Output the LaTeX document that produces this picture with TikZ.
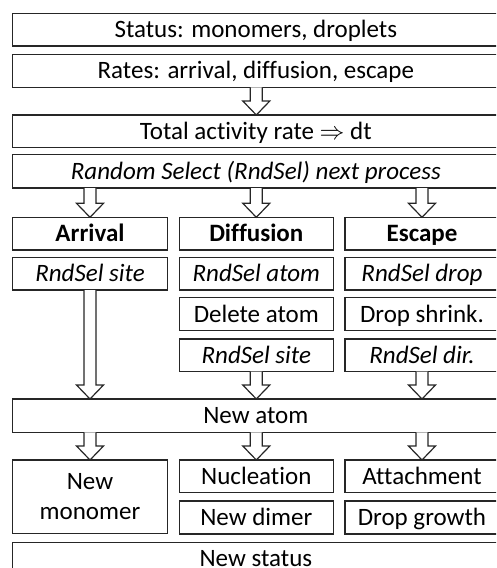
\documentclass[tikz,border=0pt]{standalone}
\usepackage{fontspec}
\setmainfont[Ligatures={NoCommon}]{Carlito}
\usetikzlibrary{calc}
\tikzset{
  box/.style={draw=black!85, line width=1.2pt, inner sep=0pt, outer sep=0pt, align=center,
    text height=19pt, text depth=3pt, font=\fontsize{25}{30}\selectfont},
  arr/.style={draw=black!85, line width=1.2pt, fill=white}
}
\newcommand\bx[6]{\node[box, minimum width={(#4-#2)*1pt}, minimum height={(#5-#3)*1pt}] (#1) at ({(#2+#4)/2},{(#3+#5)/2}) {#6};}
\newcommand\barrow[3]{%
  \draw[arr] let \p1=(#1.south), \p2=(#2.north) in
    (#3pt-6pt,\y1) -- (#3pt-6pt,\y2+14pt) -- (#3pt-13.5pt,\y2+14pt) -- (#3pt,\y2)
    -- (#3pt+13.5pt,\y2+14pt) -- (#3pt+6pt,\y2+14pt) -- (#3pt+6pt,\y1);}
\begin{document}
\begin{tikzpicture}[x=1pt,y=-1pt]
\useasboundingbox (0,0) rectangle (496,568);
\clip (0,0) rectangle (496,568);
\bx{status}{12.7}{13.3}{499}{46}{Status: monomers, droplets}
\bx{rates}{12.7}{54.3}{499}{87.3}{Rates: arrival, diffusion, escape}
\bx{total}{12.7}{115}{499}{147.7}{Total activity rate $\Rightarrow$ dt}
\bx{random}{12.7}{154.3}{499}{188}{\itshape Random Select (RndSel) next process}
\bx{arrival}{12.7}{217.3}{167.3}{250}{\bfseries Arrival}
\bx{diffusion}{179.3}{217.3}{333.3}{250}{\bfseries Diffusion}
\bx{escape}{345}{217.3}{499}{250}{\bfseries Escape}
\bx{rsa}{12.7}{257.7}{167.3}{290}{\itshape RndSel site}
\bx{rsb}{179.3}{257.7}{333.3}{290}{\itshape RndSel atom}
\bx{rsc}{345}{257.7}{499}{290}{\itshape RndSel drop}
\bx{del}{179.3}{297.7}{333.3}{330.7}{Delete atom}
\bx{shrink}{345}{297.7}{499}{330.7}{Drop shrink.}
\bx{site}{179.3}{339}{333.3}{371.7}{\itshape RndSel site}
\bx{dir}{345}{339}{499}{371.7}{\itshape RndSel dir.}
\bx{newatom}{12.7}{399}{499}{432.3}{New atom}
\bx{monomer}{12.7}{460}{167.3}{533.3}{}
\node[font=\fontsize{25}{30}\selectfont, align=center, inner sep=0pt] (monotext) at (monomer.center) {New\\monomer};
\bx{nucl}{179.3}{460}{333.3}{492.7}{Nucleation}
\bx{attach}{345}{460}{499}{492.7}{Attachment}
\bx{dimer}{179.3}{501}{333.3}{534}{New dimer}
\bx{growth}{345}{501}{499}{534}{Drop growth}
\bx{newstatus}{12.7}{542.3}{499}{575}{New status}
\barrow{rates}{total}{256.3}
\barrow{random}{arrival}{90}
\barrow{random}{diffusion}{256.3}
\barrow{random}{escape}{422}
\barrow{rsa}{newatom}{90}
\barrow{site}{newatom}{256.3}
\barrow{dir}{newatom}{422}
\barrow{newatom}{monomer}{90}
\barrow{newatom}{nucl}{256.3}
\barrow{newatom}{attach}{422}
\end{tikzpicture}
\end{document}
